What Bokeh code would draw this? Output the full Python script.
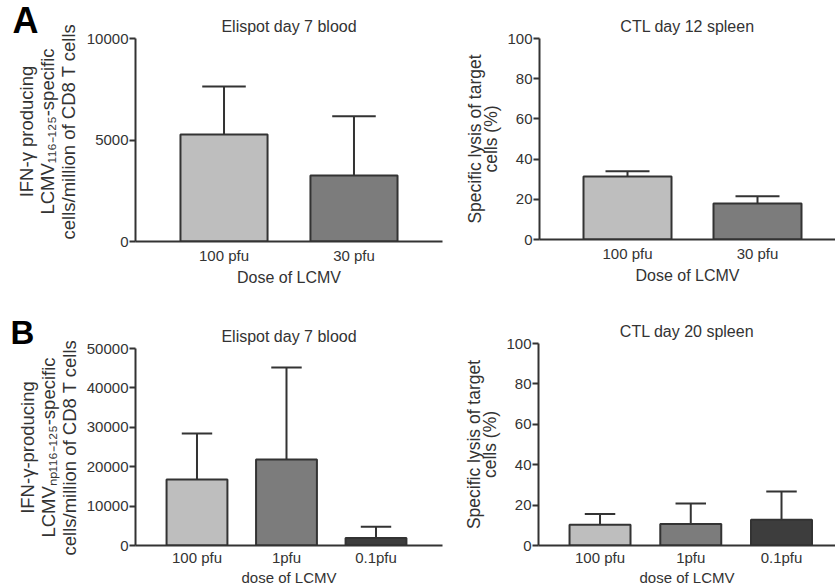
import numpy as np
from math import pi
from bokeh.plotting import figure
from bokeh.layouts import column, row
from bokeh.models import FixedTicker, Range1d, Label
from bokeh.embed import file_html
from bokeh.resources import INLINE

FONT = "Liberation Sans"
INK = "#333333"

# ---- data ----
a_doses = ["100 pfu", "30 pfu"]
a_elispot_mean = [5270, 3250]
a_elispot_err = [2370, 2920]
a_ctl_mean = [31.3, 17.9]
a_ctl_err = [2.7, 3.6]

b_doses = ["100 pfu", "1pfu", "0.1pfu"]
b_elispot_mean = [16750, 21800, 1900]
b_elispot_err = [11650, 23400, 2850]
b_ctl_mean = [10.3, 10.7, 12.7]
b_ctl_err = [5.3, 10.1, 14.0]

elispot_a_ticks = [0, 5000, 10000]
elispot_b_ticks = [0, 10000, 20000, 30000, 40000, 50000]
ctl_ticks = [0, 20, 40, 60, 80, 100]

bar_colors = ["#bebebe", "#7c7c7c", "#3d3d3d"]

elispot_a_label = "IFN-\u03b3 producing\nLCMV\u2081\u2081\u2086\u208b\u2081\u2082\u2085-specific\ncells/million of CD8 T cells"
elispot_b_label = "IFN-\u03b3-producing\nLCMV\u2099\u209a\u2081\u2081\u2086\u208b\u2081\u2082\u2085-specific\ncells/million of CD8 T cells"
ctl_label = "Specific lysis of target\ncells (%)"


def make_panel(title, cats, means, errs, yticks, ylabel, xlabel, width, height,
               bl, br, bt, bb, x0, x1, bar_w, ylab_fs="17.5px", ylab_lh=0.82,
               tick_fs="15px", xlab_fs="16px", maj_so=5, lab_so=2, ylab_so=3):
    p = figure(width=width, height=height, output_backend="svg", toolbar_location=None,
               x_range=Range1d(x0, x1), y_range=Range1d(0, yticks[-1]),
               min_border=0, min_border_left=bl, min_border_right=br,
               min_border_top=bt, min_border_bottom=bb, frame_align=False)
    xs = np.arange(1, len(cats) + 1)
    m = np.array(means, dtype=float)
    e = np.array(errs, dtype=float)
    p.vbar(x=xs, top=m, bottom=0, width=bar_w, fill_color=bar_colors[:len(cats)],
           line_color=INK, line_width=2)
    p.segment(x0=xs, y0=m, x1=xs, y1=m + e, line_color=INK, line_width=2)
    p.segment(x0=xs - bar_w / 4, y0=m + e, x1=xs + bar_w / 4, y1=m + e,
              line_color=INK, line_width=2)

    p.outline_line_color = None
    p.xgrid.visible = False
    p.ygrid.visible = False
    p.background_fill_color = "white"
    p.border_fill_color = "white"

    xa = p.xaxis[0]
    xa.ticker = FixedTicker(ticks=[int(v) for v in xs])
    xa.major_label_overrides = {int(v): c for v, c in zip(xs, cats)}
    xa.major_tick_line_color = None
    xa.major_tick_out = 0
    xa.major_tick_in = 0
    xa.minor_tick_line_color = None
    xa.axis_line_color = INK
    xa.axis_line_width = 2
    xa.major_label_text_font = FONT
    xa.major_label_text_font_size = tick_fs
    xa.major_label_text_color = INK
    xa.major_label_standoff = maj_so
    xa.axis_label = xlabel
    xa.axis_label_text_font = FONT
    xa.axis_label_text_font_size = xlab_fs
    xa.axis_label_text_font_style = "normal"
    xa.axis_label_text_color = INK
    xa.axis_label_standoff = lab_so

    ya = p.yaxis[0]
    ya.ticker = FixedTicker(ticks=yticks)
    ya.major_tick_out = 6
    ya.major_tick_in = 0
    ya.major_tick_line_width = 2
    ya.major_tick_line_color = INK
    ya.minor_tick_line_color = None
    ya.axis_line_color = INK
    ya.axis_line_width = 2
    ya.major_label_text_font = FONT
    ya.major_label_text_font_size = tick_fs
    ya.major_label_text_color = INK
    ya.major_label_standoff = 1
    if ylabel:
        ya.axis_label = ylabel
        ya.axis_label_text_font = FONT
        ya.axis_label_text_font_size = ylab_fs
        ya.axis_label_text_font_style = "normal"
        ya.axis_label_text_color = INK
        ya.axis_label_text_line_height = ylab_lh
        ya.axis_label_standoff = ylab_so

    p.title.text = title
    p.title.align = "center"
    p.title.text_font = FONT
    p.title.text_font_size = "16px"
    p.title.text_font_style = "normal"
    p.title.text_color = INK
    p.title.standoff = 8
    return p


def make_side(width, height, letter, letter_x, letter_y, letter_fs, ylabel, lab_x, lab_y):
    s = figure(width=width, height=height, output_backend="svg", toolbar_location=None,
               x_range=Range1d(0, width), y_range=Range1d(0, height),
               x_axis_location=None, y_axis_location=None, min_border=0,
               frame_align=False)
    s.outline_line_color = None
    s.grid.visible = False
    s.background_fill_color = "white"
    s.border_fill_color = "white"
    s.add_layout(Label(x=letter_x, y=letter_y, text=letter, text_font=FONT,
                       text_font_size=letter_fs, text_font_style="bold",
                       text_color="black", text_baseline="alphabetic"))
    s.add_layout(Label(x=lab_x, y=lab_y, text=ylabel, angle=pi / 2, text_font=FONT,
                       text_font_size="18.5px", text_color=INK, text_align="center",
                       text_baseline="middle", text_line_height=1.0))
    return s


SIDE_W = 80
sA = make_side(SIDE_W, 289, "A", 12, 289 - 20, "36px", elispot_a_label, 47, 289 - 131)
sB = make_side(SIDE_W, 299, "B", 10, 299 - 43, "33px", elispot_b_label, 48, 299 - 158)

p1 = make_panel("Elispot day 7 blood", a_doses, a_elispot_mean, a_elispot_err,
                elispot_a_ticks, None, "Dose of LCMV",
                443 - SIDE_W, 289, 135 - SIDE_W, 1, 38, 48, 0.319, 2.681, 0.67)
p2 = make_panel("CTL day 12 spleen", a_doses, a_ctl_mean, a_ctl_err,
                ctl_ticks, ctl_label, "Dose of LCMV",
                392, 289, 96, 0, 38, 50, 0.323, 2.600, 0.677)
p3 = make_panel("Elispot day 7 blood", b_doses, b_elispot_mean, b_elispot_err,
                elispot_b_ticks, None, "dose of LCMV",
                443 - SIDE_W, 299, 135 - SIDE_W, 1, 59, 40, 0.313, 3.743, 0.68,
                xlab_fs="15px", maj_so=3, lab_so=0)
p4 = make_panel("CTL day 20 spleen", b_doses, b_ctl_mean, b_ctl_err,
                ctl_ticks, ctl_label, "dose of LCMV",
                392, 299, 95, 0, 54, 42, 0.322, 3.595, 0.672,
                xlab_fs="15px", maj_so=3, lab_so=0)

layout = column(row(sA, p1, p2, spacing=0), row(sB, p3, p4, spacing=0), spacing=0)
open("out.html", "w").write(file_html(layout, INLINE))
